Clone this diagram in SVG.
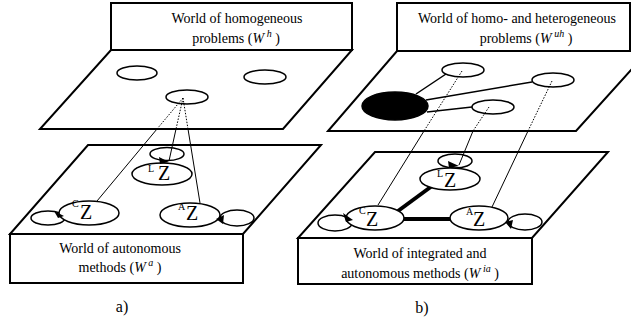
<svg xmlns="http://www.w3.org/2000/svg" width="631" height="322" viewBox="0 0 631 322">
<style>
.pl{fill:#fff;stroke:#000;stroke-width:2;stroke-linejoin:miter}
.bx{fill:#fff;stroke:#000;stroke-width:2}
.el{fill:#fff;stroke:#000;stroke-width:1.5}
.eo{fill:none;stroke:#000;stroke-width:1.5}
.blk{fill:#000;stroke:#000;stroke-width:1.5}
.lp{fill:none;stroke:#000;stroke-width:1.5}
.dot{stroke:#000;stroke-width:1;stroke-dasharray:1.5 1.5;fill:none}
.ln{stroke:#000;stroke-width:1;fill:none}
.pr{stroke:#000;stroke-width:1.5;fill:none}
.thk{stroke:#000;stroke-width:4;fill:none}
.ah{fill:#000;stroke:none}
text{font-family:"Liberation Serif","Times New Roman",serif;fill:#000}
.lb{font-size:14px;text-anchor:middle}
.z{font-size:20px}
.sp{font-size:10px}
.cap{font-size:16px;text-anchor:middle}
</style>

<!-- ===== Panel a: planes and boxes ===== -->
<g id="a-top-box">
<rect class="bx" x="111" y="3" width="241" height="47"/>
<text class="lb" x="237" y="23">World of homogeneous</text>
<text class="lb" x="236" y="43">problems (<tspan font-style="italic">W</tspan><tspan font-style="italic" font-size="10" dy="-6"> h</tspan><tspan dy="6"> )</tspan></text>
</g>
<g id="a-top-plane">
<polygon class="pl" points="111,50 352,50 283,129 40,129"/>
</g>
<g id="a-bottom-plane">
<polygon class="pl" points="88,145 321,145 243,234 10,234"/>
</g>
<g id="a-bottom-box">
<rect class="bx" x="10" y="234" width="233" height="49"/>
<text class="lb" x="120" y="253">World of autonomous</text>
<text class="lb" x="120" y="272">methods (<tspan font-style="italic">W</tspan><tspan font-style="italic" font-size="10" dy="-6"> a</tspan><tspan dy="6"> )</tspan></text>
</g>
<g id="a-caption"><text class="cap" x="122" y="312">a)</text></g>

<!-- ===== Panel b: planes and boxes ===== -->
<g id="b-top-box">
<rect class="bx" x="397" y="3" width="233" height="48"/>
<text class="lb" x="517" y="23">World of homo- and heterogeneous</text>
<text class="lb" x="526" y="43">problems (<tspan font-style="italic">W</tspan><tspan font-style="italic" font-size="10" dy="-6"> uh</tspan><tspan dy="6">  )</tspan></text>
</g>
<g id="b-top-plane">
<polygon class="pl" points="397,51 648,51 576,131 328,131"/>
</g>
<g id="b-bottom-plane">
<polygon class="pl" points="375,152 608,152 532,238 298,238"/>
</g>
<g id="b-bottom-box">
<rect class="bx" x="298" y="238" width="234" height="46"/>
<text class="lb" x="420" y="258">World of integrated and</text>
<text class="lb" x="420" y="278">autonomous methods (<tspan font-style="italic">W</tspan><tspan font-style="italic" font-size="10" dy="-6"> ia</tspan><tspan dy="6">  )</tspan></text>
</g>
<g id="b-caption"><text class="cap" x="422" y="313">b)</text></g>

<!-- ===== top-plane problem nodes ===== -->
<g id="a-p1"><ellipse class="el" cx="137" cy="73" rx="20" ry="7"/></g>
<g id="a-p2"><ellipse class="el" cx="265" cy="77" rx="21" ry="7"/></g>
<g id="a-p3"><ellipse class="el" cx="187" cy="97" rx="21" ry="7"/></g>
<g id="b-p1"><ellipse class="el" cx="463" cy="70" rx="21" ry="7"/></g>
<g id="b-p2"><ellipse class="el" cx="553" cy="80" rx="21" ry="7"/></g>
<g id="b-p3"><ellipse class="el" cx="493" cy="107" rx="21" ry="7"/></g>
<g id="b-p0"><ellipse class="blk" cx="395" cy="106" rx="33" ry="14"/></g>

<g id="connectors">
<!-- panel a -->
<path class="dot" d="M183,98 L157,129"/>
<path class="ln" d="M157,129 L97,201"/>
<path class="dot" d="M183,98 L176,129"/>
<path class="ln" d="M176,129 L169,161"/>
<path class="dot" d="M183,98 L188,129"/>
<path class="ln" d="M188,129 L200,203"/>
<!-- panel b: problem links -->
<path class="pr" d="M416,94 L446,74"/>
<path class="pr" d="M426,100 L532,82"/>
<path class="pr" d="M427,112 L472,107"/>
<!-- panel b: problem to method -->
<path class="dot" d="M462,71 L424,131"/>
<path class="ln" d="M424,131 L378,205"/>
<path class="dot" d="M489,107 L473,131"/>
<path class="ln" d="M473,131 L459,165"/>
<path class="dot" d="M552,81 L528,131"/>
<path class="ln" d="M528,131 L492,207"/>
<!-- panel b: integration links -->
<path class="thk" d="M398,211 L432,186"/>
<path class="thk" d="M402,219 L451,219"/>
</g>

<!-- ===== method nodes panel a ===== -->
<g id="a-LZ">
<ellipse class="lp" cx="167" cy="154" rx="17" ry="6.5"/>
<ellipse class="el" cx="162" cy="174" rx="30" ry="11"/>
<text class="sp" x="148" y="172">L</text>
<text class="z" x="158" y="180">Z</text>
<polygon class="ah" points="159,157 160,164 169,162"/>
</g>
<g id="a-CZ">
<ellipse class="lp" cx="48" cy="218" rx="17" ry="7"/>
<ellipse class="el" cx="89" cy="213" rx="30" ry="12"/>
<text class="sp" x="72" y="207">C</text>
<text class="z" x="80" y="219">Z</text>
<polygon class="ah" points="54,211 58,218 64,216"/>
</g>
<g id="a-AZ">
<ellipse class="lp" cx="237" cy="218" rx="17" ry="8"/>
<ellipse class="el" cx="190" cy="215" rx="30" ry="12"/>
<text class="sp" x="178" y="210">A</text>
<text class="z" x="186" y="220">Z</text>
<polygon class="ah" points="216,219 224,215 223,224"/>
</g>

<!-- ===== method nodes panel b ===== -->
<g id="b-LZ">
<ellipse class="lp" cx="455" cy="161" rx="17" ry="7"/>
<ellipse class="el" cx="450" cy="179" rx="30" ry="11"/>
<text class="sp" x="437" y="177">L</text>
<text class="z" x="444" y="187">Z</text>
<polygon class="ah" points="448,161 449,168 459,166"/>
</g>
<g id="b-CZ">
<ellipse class="lp" cx="335" cy="223" rx="17" ry="8"/>
<ellipse class="el" cx="375" cy="218" rx="29" ry="12"/>
<text class="sp" x="359" y="214">C</text>
<text class="z" x="366" y="226">Z</text>
<polygon class="ah" points="343,213 346,222 353,220"/>
</g>
<g id="b-AZ">
<ellipse class="lp" cx="525" cy="222" rx="17" ry="8"/>
<ellipse class="el" cx="479" cy="218" rx="29" ry="12"/>
<text class="sp" x="466" y="215">A</text>
<text class="z" x="473" y="226">Z</text>
<polygon class="ah" points="505,222 513,220 511,229"/>
</g>
</svg>
